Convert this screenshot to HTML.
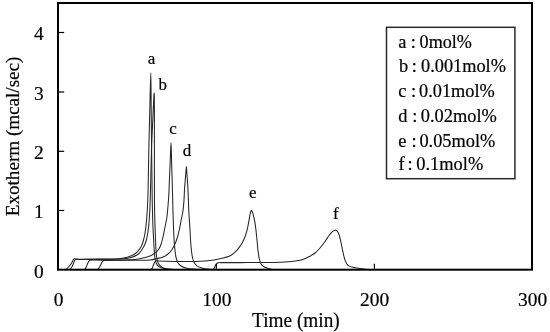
<!DOCTYPE html>
<html><head><meta charset="utf-8">
<style>
html,body{margin:0;padding:0;background:#fff;}
body{width:550px;height:332px;overflow:hidden;}
svg{display:block;will-change:transform;}
text{font-family:"Liberation Serif",serif;fill:#000;stroke:#000;stroke-width:0.2px;}
</style></head>
<body>
<svg width="550" height="332" viewBox="0 0 550 332">
<!-- curves -->
<g fill="none" stroke="#262626" stroke-width="1.05" stroke-linejoin="round" stroke-linecap="round">
<!-- a -->
<path d="M58.00,269.50 C59.17,269.50 65.00,269.50 65.00,269.50 C65.00,269.50 65.99,269.46 66.60,269.00 C67.27,268.50 68.17,267.50 69.00,266.50 C69.83,265.50 70.93,264.05 71.60,263.00 C72.27,261.95 72.57,260.92 73.00,260.20 C73.43,259.48 73.70,258.88 74.20,258.70 C74.70,258.52 75.16,259.03 76.00,259.10 C76.97,259.18 78.18,259.20 80.00,259.20 C82.33,259.20 85.83,259.12 90.00,259.10 C94.17,259.08 100.83,259.13 105.00,259.10 C109.17,259.07 112.33,259.02 115.00,258.90 C117.67,258.78 119.08,258.62 121.00,258.40 C122.92,258.18 124.58,258.12 126.50,257.60 C128.42,257.08 130.92,256.07 132.50,255.30 C134.08,254.53 134.98,253.85 136.00,253.00 C137.02,252.15 137.72,251.33 138.60,250.20 C139.48,249.07 140.50,247.82 141.30,246.20 C142.10,244.58 142.77,242.78 143.40,240.50 C144.03,238.22 144.65,235.08 145.10,232.50 C145.55,229.92 145.77,228.42 146.10,225.00 C146.47,221.25 146.97,215.83 147.30,210.00 C147.63,204.17 147.87,199.10 148.10,190.00 C148.35,180.00 148.52,163.33 148.80,150.00 C149.08,136.67 149.47,122.87 149.80,110.00 C150.13,97.13 150.57,72.80 150.80,72.80 C151.03,72.80 151.07,97.13 151.20,110.00 C151.33,122.87 151.45,136.67 151.60,150.00 C151.75,163.33 151.98,180.83 152.10,190.00 C152.19,196.82 152.17,199.17 152.30,205.00 C152.43,210.83 152.68,219.17 152.90,225.00 C153.12,230.83 153.38,235.83 153.60,240.00 C153.82,244.17 153.97,246.90 154.20,250.00 C154.43,253.10 154.63,256.37 155.00,258.60 C155.37,260.83 155.73,262.07 156.40,263.40 C157.07,264.73 157.90,265.78 159.00,266.60 C160.10,267.42 161.17,267.87 163.00,268.30 C164.83,268.73 166.83,269.00 170.00,269.20 C173.17,269.40 180.00,269.45 182.00,269.50"/>
<!-- b -->
<path d="M58.00,269.50 C59.90,269.50 69.40,269.50 69.40,269.50 C69.40,269.50 70.11,269.25 70.50,268.80 C71.00,268.22 71.83,267.10 72.40,266.00 C72.97,264.90 73.48,263.22 73.90,262.20 C74.32,261.18 74.52,260.38 74.90,259.90 C75.28,259.42 75.68,259.38 76.20,259.30 C76.72,259.22 77.18,259.40 78.00,259.40 C81.13,259.42 89.67,259.42 95.00,259.40 C100.33,259.38 105.83,259.35 110.00,259.30 C114.17,259.25 117.33,259.22 120.00,259.10 C122.67,258.98 124.17,258.85 126.00,258.60 C127.83,258.35 129.17,258.20 131.00,257.60 C132.83,257.00 135.55,255.83 137.00,255.00 C138.42,254.18 138.93,253.43 139.70,252.60 C140.47,251.77 140.85,251.13 141.60,250.00 C142.35,248.87 143.40,247.47 144.20,245.80 C145.00,244.13 145.78,242.30 146.40,240.00 C147.02,237.70 147.50,234.50 147.90,232.00 C148.30,229.50 148.52,228.20 148.80,225.00 C149.12,221.33 149.52,215.83 149.80,210.00 C150.08,204.17 150.24,199.09 150.50,190.00 C150.78,180.00 151.12,161.67 151.50,150.00 C151.88,138.33 152.35,129.47 152.80,120.00 C153.25,110.53 153.93,91.53 154.20,93.20 C154.47,94.87 154.37,117.20 154.40,130.00 C154.43,142.80 154.38,157.50 154.40,170.00 C154.42,182.50 154.40,195.83 154.50,205.00 C154.60,214.09 154.83,219.17 155.00,225.00 C155.17,230.83 155.33,235.83 155.50,240.00 C155.67,244.17 155.77,246.92 156.00,250.00 C156.23,253.08 156.50,256.25 156.90,258.50 C157.30,260.75 157.63,262.08 158.40,263.50 C159.17,264.92 160.23,266.13 161.50,267.00 C162.77,267.87 163.92,268.30 166.00,268.70 C168.08,269.10 170.83,269.27 174.00,269.40 C177.17,269.53 183.17,269.48 185.00,269.50"/>
<!-- c -->
<path d="M58.00,269.50 C62.43,269.50 84.60,269.50 84.60,269.50 C84.60,269.50 85.23,269.11 85.50,268.60 C85.93,267.78 86.65,265.82 87.20,264.60 C87.75,263.38 88.35,262.02 88.80,261.30 C89.16,260.73 89.37,260.50 89.90,260.30 C90.43,260.10 91.04,260.11 92.00,260.10 C95.35,260.07 104.50,260.13 110.00,260.10 C115.50,260.07 120.83,260.00 125.00,259.90 C129.17,259.80 132.00,259.82 135.00,259.50 C138.00,259.18 140.50,258.58 143.00,258.00 C145.50,257.42 148.00,256.80 150.00,256.00 C152.00,255.20 153.58,254.28 155.00,253.20 C156.42,252.12 157.50,250.95 158.50,249.50 C159.50,248.05 160.25,246.58 161.00,244.50 C161.75,242.42 162.37,239.75 163.00,237.00 C163.63,234.25 164.17,231.17 164.80,228.00 C165.43,224.83 166.28,221.50 166.80,218.00 C167.32,214.50 167.57,210.83 167.90,207.00 C168.23,203.17 168.55,199.50 168.80,195.00 C169.05,190.50 169.17,185.50 169.40,180.00 C169.63,174.50 169.93,168.25 170.20,162.00 C170.47,155.75 170.77,142.50 171.00,142.50 C171.23,142.50 171.40,155.42 171.60,162.00 C171.80,168.58 172.02,175.67 172.20,182.00 C172.38,188.33 172.55,194.50 172.70,200.00 C172.85,205.50 172.95,210.00 173.10,215.00 C173.25,220.00 173.40,225.33 173.60,230.00 C173.80,234.67 174.03,239.33 174.30,243.00 C174.57,246.67 174.87,249.42 175.20,252.00 C175.53,254.58 175.83,256.67 176.30,258.50 C176.77,260.33 177.22,261.75 178.00,263.00 C178.78,264.25 179.67,265.17 181.00,266.00 C182.33,266.83 184.00,267.48 186.00,268.00 C188.00,268.52 189.83,268.85 193.00,269.10 C196.17,269.35 203.00,269.43 205.00,269.50"/>
<!-- d -->
<path d="M58.00,269.50 C64.60,269.50 97.60,269.50 97.60,269.50 C97.60,269.50 98.27,269.11 98.60,268.60 C99.13,267.78 100.13,265.80 100.80,264.60 C101.47,263.40 102.08,262.08 102.60,261.40 C103.03,260.83 103.25,260.67 103.90,260.50 C104.55,260.33 105.32,260.41 106.50,260.40 C110.02,260.37 119.42,260.33 125.00,260.30 C130.58,260.27 135.83,260.27 140.00,260.20 C144.17,260.13 147.17,260.17 150.00,259.90 C152.83,259.63 154.83,259.08 157.00,258.60 C159.17,258.12 161.17,257.77 163.00,257.00 C164.83,256.23 166.50,255.25 168.00,254.00 C169.50,252.75 170.83,251.17 172.00,249.50 C173.17,247.83 174.08,246.08 175.00,244.00 C175.92,241.92 176.75,239.50 177.50,237.00 C178.25,234.50 178.88,231.83 179.50,229.00 C180.12,226.17 180.60,223.17 181.20,220.00 C181.80,216.83 182.63,213.33 183.10,210.00 C183.57,206.67 183.75,203.67 184.00,200.00 C184.25,196.33 184.33,192.00 184.60,188.00 C184.87,184.00 185.30,179.58 185.60,176.00 C185.90,172.42 186.15,166.50 186.40,166.50 C186.65,166.50 186.85,172.42 187.10,176.00 C187.35,179.58 187.68,184.00 187.90,188.00 C188.12,192.00 188.23,195.83 188.40,200.00 C188.57,204.17 188.65,208.33 188.90,213.00 C189.15,217.67 189.62,223.33 189.90,228.00 C190.18,232.67 190.33,237.17 190.60,241.00 C190.87,244.83 191.17,248.17 191.50,251.00 C191.83,253.83 192.15,256.03 192.60,258.00 C193.05,259.97 193.47,261.50 194.20,262.80 C194.93,264.10 195.87,264.98 197.00,265.80 C198.13,266.62 199.33,267.18 201.00,267.70 C202.67,268.22 204.50,268.60 207.00,268.90 C209.50,269.20 214.50,269.40 216.00,269.50"/>
<!-- e -->
<path d="M151.20,269.50 C151.20,269.50 151.88,268.87 152.20,268.20 C152.60,267.37 153.13,265.57 153.60,264.50 C154.07,263.43 154.55,262.43 155.00,261.80 C155.45,261.17 155.72,260.82 156.30,260.70 C156.88,260.58 157.48,261.06 158.50,261.10 C161.62,261.22 168.92,261.35 175.00,261.40 C181.08,261.45 190.00,261.47 195.00,261.40 C199.55,261.34 201.83,261.23 205.00,261.00 C208.17,260.77 210.98,260.48 214.00,260.00 C217.02,259.52 220.38,258.82 223.10,258.10 C225.82,257.38 228.35,256.65 230.30,255.70 C232.25,254.75 233.43,253.62 234.80,252.40 C236.17,251.18 237.28,249.97 238.50,248.40 C239.72,246.83 241.05,244.85 242.10,243.00 C243.15,241.15 243.98,239.42 244.80,237.30 C245.62,235.18 246.38,232.67 247.00,230.30 C247.62,227.93 248.03,225.52 248.50,223.10 C248.97,220.68 249.42,217.75 249.80,215.80 C250.18,213.85 250.53,212.30 250.80,211.40 C250.95,210.89 251.17,210.40 251.40,210.40 C251.63,210.40 251.96,210.87 252.20,211.40 C252.48,212.02 252.78,212.85 253.10,214.10 C253.52,215.73 254.20,218.33 254.70,221.20 C255.20,224.07 255.70,227.93 256.10,231.30 C256.50,234.67 256.77,238.03 257.10,241.40 C257.43,244.77 257.75,248.68 258.10,251.50 C258.45,254.32 258.68,256.18 259.20,258.30 C259.72,260.42 260.40,262.78 261.20,264.20 C262.00,265.62 263.03,266.15 264.00,266.80 C264.97,267.45 265.78,267.70 267.00,268.10 C268.22,268.50 269.47,268.97 271.30,269.20 C273.13,269.43 275.72,269.45 278.00,269.50 C280.28,269.55 283.83,269.50 285.00,269.50"/>
<!-- f -->
<path d="M213.10,269.50 C213.10,269.50 213.84,268.95 214.20,268.30 C214.58,267.62 214.97,266.20 215.40,265.40 C215.83,264.60 216.28,263.95 216.80,263.50 C217.32,263.05 217.80,262.85 218.50,262.70 C219.20,262.55 219.86,262.61 221.00,262.60 C224.58,262.58 233.50,262.62 240.00,262.60 C246.50,262.58 254.17,262.53 260.00,262.50 C265.83,262.47 270.83,262.47 275.00,262.40 C279.17,262.33 282.17,262.25 285.00,262.10 C287.83,261.95 289.50,261.80 292.00,261.50 C294.50,261.20 297.83,260.78 300.00,260.30 C302.17,259.82 303.33,259.27 305.00,258.60 C306.67,257.93 308.33,257.23 310.00,256.30 C311.67,255.37 313.33,254.38 315.00,253.00 C316.67,251.62 318.33,249.92 320.00,248.00 C321.67,246.08 323.50,243.58 325.00,241.50 C326.50,239.42 327.83,237.12 329.00,235.50 C330.17,233.88 331.07,232.68 332.00,231.80 C332.93,230.92 333.83,230.42 334.60,230.20 C335.37,229.98 336.00,230.10 336.60,230.50 C337.20,230.90 337.70,231.60 338.20,232.60 C338.70,233.60 339.13,234.85 339.60,236.50 C340.07,238.15 340.53,240.33 341.00,242.50 C341.47,244.67 341.93,247.28 342.40,249.50 C342.87,251.72 343.32,253.92 343.80,255.80 C344.28,257.68 344.77,259.40 345.30,260.80 C345.83,262.20 346.35,263.32 347.00,264.20 C347.65,265.08 348.28,265.60 349.20,266.10 C350.12,266.60 351.20,266.88 352.50,267.20 C353.80,267.52 355.42,267.73 357.00,268.00 C358.58,268.27 360.33,268.57 362.00,268.80 C363.67,269.03 365.50,269.25 367.00,269.40 C368.50,269.55 370.33,269.65 371.00,269.70"/>
</g>
<!-- frame -->
<rect x="58" y="3" width="474" height="266.7" fill="none" stroke="#000" stroke-width="2"/>
<!-- y ticks -->
<g stroke="#000" stroke-width="1.2">
<line x1="59" y1="32.5" x2="64.2" y2="32.5"/>
<line x1="59" y1="92" x2="64.2" y2="92"/>
<line x1="59" y1="151.3" x2="64.2" y2="151.3"/>
<line x1="59" y1="210.5" x2="64.2" y2="210.5"/>
</g>
<g stroke="#000" stroke-width="1.2">
<line x1="216.3" y1="268.7" x2="216.3" y2="263.9"/>
<line x1="374.4" y1="268.7" x2="374.4" y2="263.7"/>
</g>
<!-- y labels -->
<g font-size="19.4" text-anchor="end">
<text x="43.6" y="40">4</text>
<text x="43.6" y="99.9">3</text>
<text x="43.6" y="158.6">2</text>
<text x="43.6" y="218">1</text>
<text x="43.6" y="277.5">0</text>
</g>
<!-- x labels -->
<g font-size="19.4" text-anchor="middle">
<text x="58.6" y="306.4">0</text>
<text x="216.8" y="306.4">100</text>
<text x="374.6" y="306.4">200</text>
<text x="532.6" y="306.4">300</text>
</g>
<text x="295.9" y="327.3" font-size="20" text-anchor="middle" textLength="87.6" lengthAdjust="spacingAndGlyphs">Time (min)</text>
<text transform="translate(19.1,136.4) rotate(-90)" font-size="19.6" text-anchor="middle" textLength="159.6" lengthAdjust="spacingAndGlyphs">Exotherm (mcal/sec)</text>
<!-- peak labels -->
<g font-size="17" text-anchor="middle">
<text x="151.6" y="64.1">a</text>
<text x="162.8" y="89.9">b</text>
<text x="173.1" y="133.9">c</text>
<text x="187" y="155.5">d</text>
<text x="252.8" y="197.6">e</text>
<text x="335.9" y="219.2">f</text>
</g>
<!-- legend -->
<rect x="386.5" y="27.3" width="128.4" height="151.4" fill="#fff" stroke="#2a2a2a" stroke-width="1.5"/>
<g font-size="18.4">
<g transform="translate(0,47.9) scale(1,1.04)"><text x="398.2" y="0">a</text><text x="410.63" y="0">:</text><text x="419.6" y="0" textLength="52.3" lengthAdjust="spacingAndGlyphs">0mol%</text></g>
<g transform="translate(0,72.3) scale(1,1.04)"><text x="398.9" y="0">b</text><text x="411.83" y="0">:</text><text x="421.05" y="0" textLength="84.9" lengthAdjust="spacingAndGlyphs">0.001mol%</text></g>
<g transform="translate(0,97.4) scale(1,1.04)"><text x="398.2" y="0">c</text><text x="411.13" y="0">:</text><text x="419.05" y="0" textLength="75.7" lengthAdjust="spacingAndGlyphs">0.01mol%</text></g>
<g transform="translate(0,122.3) scale(1,1.04)"><text x="398.2" y="0">d</text><text x="412.3" y="0">:</text><text x="420.8" y="0" textLength="76.0" lengthAdjust="spacingAndGlyphs">0.02mol%</text></g>
<g transform="translate(0,146.6) scale(1,1.04)"><text x="398.2" y="0">e</text><text x="411.4" y="0">:</text><text x="419.45" y="0" textLength="75.9" lengthAdjust="spacingAndGlyphs">0.05mol%</text></g>
<g transform="translate(0,169.6) scale(1,1.04)"><text x="398.6" y="0">f</text><text x="407.4" y="0">:</text><text x="416.25" y="0" textLength="67.0" lengthAdjust="spacingAndGlyphs">0.1mol%</text></g>
</g>
</svg>
</body></html>
